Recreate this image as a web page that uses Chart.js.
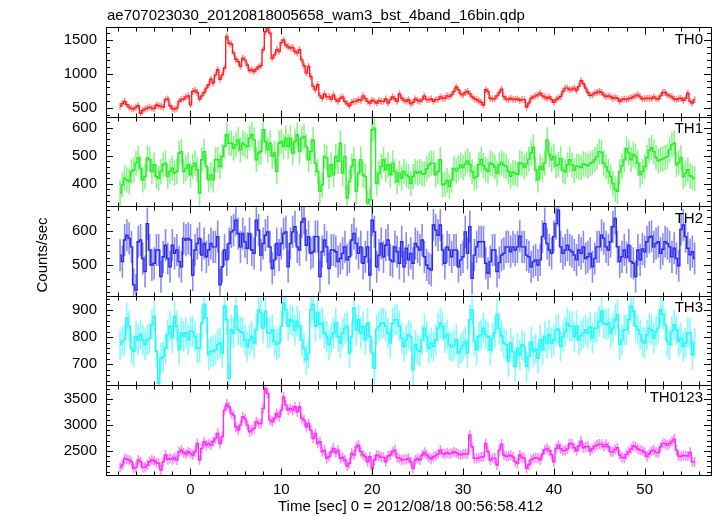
<!DOCTYPE html>
<html>
<head>
<meta charset="utf-8">
<script src="https://cdn.jsdelivr.net/npm/chart.js@4.4.0/dist/chart.umd.min.js"></script>
<style>
  html, body { margin: 0; padding: 0; background: #fff; }
  canvas { display: block; }
</style>
</head>
<body>
<canvas id="lc" width="717" height="516"></canvas>
<script>
// light curve bins: 16 x 1/64 s = 0.25 s, first bin centre at -7.75 s
const binStart = -7.75;
const binWidth = 0.25;

const th0 = [520,560,595,545,510,490,480,510,530,420, 460,480,495,510,495,490,540,530,520,510,
  620,630,530,490,480,495,595,620,630,660, 675,545,740,755,725,630,675,725,790,840,
  920,865,985,1060,920,985,1085,1550,1450,1440, 1305,1215,1180,1110,1230,1205,1130,1050,1060,1035,
  1070,1100,1120,1355,1620,1670,1600,1230,1280,1355, 1330,1460,1500,1425,1400,1380,1390,1330,1305,1355,
  1205,1120,1010,1110,960,815,765,840,675,640, 705,660,665,630,690,620,595,640,660,595,
  560,530,580,595,595,620,610,675,635,595, 570,610,595,570,605,595,595,630,570,620,
  660,630,595,705,640,610,595,620,560,580, 630,610,
  595,620,675,620,620,630,595,620,620,660, 640,640,675,665,690,740,805,765,705,690,
  725,740,705,660,635,620,600,580,540,765, 740,640,630,635,675,725,775,665,630,620,
  640,620,625,630,610,620,620,510,570,640, 660,675,690,715,675,660,640,660,620,580,
  620,645,665,740,790,790,765,775,790,755, 815,900,855,790,725,685,690,715,725,740,
  725,690,665,675,665,640,650,640,595,620, 630,620,635,645,660,675,690,660,630,635,
  640,640,635,660,635,630,675,725,725,690, 675,660,630,620,635,640,610,640,715,595,
  570,620];
const th1 = [367,396,420,414,408,444,450,474,492,456, 414,426,492,486,444,468,426,420,444,468,
  474,426,444,456,438,444,510,515,444,456, 468,432,462,474,450,367,486,515,462,414,
  432,414,486,486,462,498,533,575,545,545, 527,539,557,521,545,539,533,563,575,557,
  486,510,515,593,551,521,545,498,510,444, 545,551,533,563,533,563,510,551,575,515,
  563,569,533,486,515,557,474,444,373,396, 498,492,426,468,432,498,480,545,438,498,
  349,408,462,486,373,438,486,432,426,331, 343,593,599,402,438,462,486,450,468,432,
  474,444,408,438,420,444,432,426,402,426, 444,438,
  444,436,435,454,467,474,474,432,444,486, 396,400,412,391,413,455,446,456,467,458,
  471,482,469,444,421,426,469,487,465,452, 445,474,470,460,438,468,475,467,462,444,
  427,441,438,433,475,471,460,471,488,510, 531,450,414,462,450,474,557,504,486,498,
  464,469,490,448,443,468,486,468,448,463, 462,458,471,468,464,473,477,486,496,515,
  512,474,461,444,426,401,381,373,443,464, 486,525,510,486,505,498,474,432,444,462,
  494,519,529,515,494,482,486,489,494,498, 521,540,545,468,476,494,426,438,450,429,
  424,419];
const th2 = [529,510,573,587,578,553,442,427,568,573, 519,481,621,544,500,505,544,544,466,524,
  558,519,495,558,534,544,510,495,578,573, 578,573,471,544,563,578,529,563,524,544,
  563,553,553,583,442,495,544,515,563,597, 602,631,592,553,592,568,549,592,544,534,
  631,602,529,563,587,597,553,490,515,563, 529,563,592,597,495,563,597,612,553,544,
  626,636,558,583,534,539,583,583,466,539, 573,553,490,544,544,539,510,519,534,553,
  515,524,573,592,563,534,553,505,524,553, 471,631,597,495,529,563,524,558,573,515,
  510,553,539,505,568,495,549,515,534,505, 563,553,
  544,573,524,500,490,485,617,602,587,617, 544,505,553,544,524,544,544,495,515,524,
  597,534,612,461,529,553,568,568,568,505, 476,510,544,544,481,507,529,534,553,553,
  539,553,544,553,584,553,553,529,524,495, 510,515,500,515,583,621,563,544,534,583,
  621,660,553,534,544,558,544,539,529,515, 544,534,553,519,524,534,495,519,553,553,
  587,578,553,544,568,612,636,553,510,524, 544,522,558,510,505,466,544,515,547,539,
  568,581,584,553,563,568,534,546,568,563, 553,524,549,519,498,604,617,583,549,530,
  539,519];
const th3 = [772,784,790,870,840,759,747,802,790,809, 790,772,790,796,846,877,747,630,722,728,
  759,809,840,796,877,840,753,815,802,815, 790,821,821,802,759,759,852,920,870,735,
  747,747,753,772,778,741,914,864,648,827, 815,914,827,821,815,790,765,790,802,778,
  827,901,889,833,895,815,815,827,784,772, 778,840,926,901,840,864,858,827,858,840,
  790,759,716,741,901,920,840,889,846,852, 815,802,772,796,815,852,802,778,815,833,
  840,741,802,907,827,864,815,840,790,852, 802,741,685,827,840,852,852,840,815,778,
  852,864,864,840,796,765,790,809,802,679, 772,753,
  747,790,833,802,759,778,765,790,833,852, 840,796,809,772,763,770,790,741,756,769,
  784,741,864,901,784,753,802,809,833,809, 802,753,796,815,883,830,805,778,772,710,
  778,747,691,759,735,772,763,691,728,781, 747,756,722,790,753,802,778,809,778,790,
  825,830,765,802,821,852,840,840,802,840, 790,805,815,827,815,837,796,833,833,858,
  895,852,846,852,815,833,864,883,772,790, 827,827,864,914,895,840,827,809,784,778,
  809,833,827,796,821,833,901,883,846,784, 772,821,846,827,784,796,765,778,815,815,
  735,778];
const th0123 = [2181,2226,2355,2336,2323,2291,2162,2181,2323,2291, 2181,2181,2226,2291,2323,2310,2271,2258,2129,2291,
  2420,2336,2355,2336,2374,2323,2484,2516,2465,2439, 2484,2452,2420,2484,2645,2323,2549,2678,2613,2645,
  2613,2678,2742,2839,2645,2774,3290,3406,3355,3226, 3194,2968,2903,3000,3161,3129,3000,2871,2903,2936,
  3065,3032,3032,3323,3710,3613,3097,3065,3129,3226, 3161,3290,3548,3387,3290,3323,3290,3355,3258,3355,
  3129,3097,2968,3032,2903,2742,2839,2645,2678,2484, 2516,2355,2387,2484,2549,2465,2516,2355,2374,2323,
  2207,2258,2452,2420,2581,2613,2484,2420,2387,2291, 2387,2162,2323,2420,2400,2374,2374,2291,2400,2420,
  2484,2516,2374,2355,2323,2336,2336,2355,2291,2162, 2323,2355,
  2323,2420,2471,2426,2374,2349,2387,2407,2439,2516, 2452,2439,2465,2445,2452,2484,2465,2439,2420,2445,
  2445,2439,2807,2581,2355,2355,2368,2381,2387,2645, 2484,2323,2361,2361,2226,2516,2632,2420,2394,2400,
  2413,2381,2291,2258,2420,2374,2355,2162,2226,2329, 2355,2368,2361,2329,2439,2523,2549,2503,2426,2291,
  2549,2613,2542,2503,2510,2536,2645,2632,2561,2503, 2594,2690,2561,2581,2587,2497,2542,2587,2613,2632,
  2626,2581,2626,2581,2484,2484,2523,2561,2426,2374, 2361,2432,2484,2536,2594,2581,2536,2516,2503,2471,
  2394,2445,2497,2516,2471,2465,2581,2645,2639,2613, 2639,2684,2729,2516,2400,2394,2413,2407,2400,2471,
  2291,2284];

const panelNames = ['TH0', 'TH1', 'TH2', 'TH3', 'TH0123'];
const series = [th0, th1, th2, th3, th0123];
const errBars = [50, 45, 47, 56, 98];
const yMin = [370, 320, 410, 622, 2033];
const yMax = [1690, 640, 672, 952, 3770];
const yTicks = [[500, 1000, 1500], [400, 500, 600], [500, 600], [700, 800, 900], [2500, 3000, 3500]];
const yMinor = [100, 20, 20, 20, 100];
const timeTicks = [0, 10, 20, 30, 40, 50];
const timeMinor = 2;
const xMin = -9.3, xMax = 57.3;

const lineColors = ['#ff2020', '#22ee22', '#2828f0', '#22f8f8', '#ff28ff'];
const barColors = ['rgba(255,60,60,0.6)', 'rgba(60,235,60,0.6)', 'rgba(60,60,240,0.6)',
  'rgba(60,250,250,0.65)', 'rgba(255,60,255,0.6)'];

const FONT_FAMILY = '"Liberation Sans", Arial, Helvetica, sans-serif';
const chartTitle = 'ae707023030_20120818005658_wam3_bst_4band_16bin.qdp';
const xTitle = 'Time [sec] 0 = 2012/08/18 00:56:58.412';
const yTitle = 'Counts/sec';

const datasets = series.map((vals, k) => ({
  label: panelNames[k],
  data: vals.map((v, i) => ({ x: binStart + i * binWidth, y: v })),
  yAxisID: 'y' + k,
  borderColor: lineColors[k],
  borderWidth: 1.4,
  pointRadius: 0,
  stepped: 'middle',
  fill: false
}));

const scales = {
  x: {
    type: 'linear',
    position: 'bottom',
    min: xMin,
    max: xMax,
    grid: { display: false, drawTicks: false },
    border: { display: false },
    afterBuildTicks: s => { s.ticks = timeTicks.map(v => ({ value: v })); },
    afterFit: s => { s.height = 41; },
    ticks: {
      color: '#000', font: { family: FONT_FAMILY, size: 15 }, padding: 6, maxRotation: 0,
      callback: v => String(v)
    }
  }
};
panelNames.forEach((name, k) => {
  scales['y' + k] = {
    type: 'linear',
    position: 'left',
    stack: 'panels',
    stackWeight: 1,
    weight: 10 - k,
    min: yMin[k],
    max: yMax[k],
    grid: { display: false, drawTicks: false },
    border: { display: false },
    afterBuildTicks: s => { s.ticks = yTicks[k].map(v => ({ value: v })); },
    afterFit: s => { s.width = 106; },
    ticks: {
      color: '#000', font: { family: FONT_FAMILY, size: 15 }, padding: 9, autoSkip: false,
      callback: v => String(v)
    }
  };
});

const qdpPlugin = {
  id: 'qdp',
  beforeDatasetDraw(chart, args) {
    const k = args.index;
    const ys = chart.scales['y' + k];
    const a = chart.chartArea;
    const ctx = chart.ctx;
    ctx.save();
    ctx.beginPath();
    ctx.rect(a.left, ys.top, a.right - a.left, ys.bottom - ys.top);
    ctx.clip();
    // error bars under the step line
    ctx.strokeStyle = barColors[k];
    ctx.lineWidth = 1.6;
    ctx.beginPath();
    args.meta.data.forEach((pt, i) => {
      const v = series[k][i];
      ctx.moveTo(pt.x, ys.getPixelForValue(v - errBars[k]));
      ctx.lineTo(pt.x, ys.getPixelForValue(v + errBars[k]));
    });
    ctx.stroke();
  },
  afterDatasetDraw(chart) {
    chart.ctx.restore();
  },
  afterDraw(chart) {
    const ctx = chart.ctx;
    const a = chart.chartArea;
    const xs = chart.scales.x;
    ctx.save();
    ctx.strokeStyle = '#000';
    ctx.fillStyle = '#000';
    ctx.lineWidth = 1;
    panelNames.forEach((name, k) => {
      const ys = chart.scales['y' + k];
      const top = Math.round(ys.top) + 0.5;
      const bot = Math.round(ys.bottom) + 0.5;
      ctx.beginPath();
      for (let v = Math.ceil(yMin[k] / yMinor[k]) * yMinor[k]; v <= yMax[k]; v += yMinor[k]) {
        const y = Math.round(ys.getPixelForValue(v)) + 0.5;
        const len = yTicks[k].includes(v) ? 7 : 4;
        ctx.moveTo(a.left, y); ctx.lineTo(a.left + len, y);
        ctx.moveTo(a.right, y); ctx.lineTo(a.right - len, y);
      }
      for (let t = Math.ceil(xMin / timeMinor) * timeMinor; t <= xMax; t += timeMinor) {
        const x = Math.round(xs.getPixelForValue(t)) + 0.5;
        const len = timeTicks.includes(t) ? 7 : 4;
        ctx.moveTo(x, top); ctx.lineTo(x, top + len);
        ctx.moveTo(x, bot); ctx.lineTo(x, bot - len);
      }
      ctx.stroke();
      ctx.strokeRect(Math.round(a.left) + 0.5, top, Math.round(a.right - a.left), bot - top);

      ctx.font = '15px ' + FONT_FAMILY;
      ctx.textAlign = 'right';
      ctx.textBaseline = 'alphabetic';
      ctx.fillText(name, a.right - 8, ys.top + 16.5);
    });

    ctx.font = '15px ' + FONT_FAMILY;
    ctx.textAlign = 'left';
    ctx.textBaseline = 'alphabetic';
    ctx.fillText(chartTitle, 107, 19.5);

    ctx.textAlign = 'center';
    ctx.fillText(xTitle, (a.left + a.right) / 2 + 2, 511);

    ctx.translate(46.5, 255);
    ctx.rotate(-Math.PI / 2);
    ctx.fillText(yTitle, 0, 0);
    ctx.restore();
  }
};

new Chart(document.getElementById('lc'), {
  type: 'line',
  data: { datasets },
  options: {
    responsive: false,
    animation: false,
    layout: { padding: { top: 27, right: 6, bottom: 0, left: 0 } },
    scales,
    plugins: { legend: { display: false }, tooltip: { enabled: false }, title: { display: false } }
  },
  plugins: [qdpPlugin]
});
</script>
</body>
</html>
